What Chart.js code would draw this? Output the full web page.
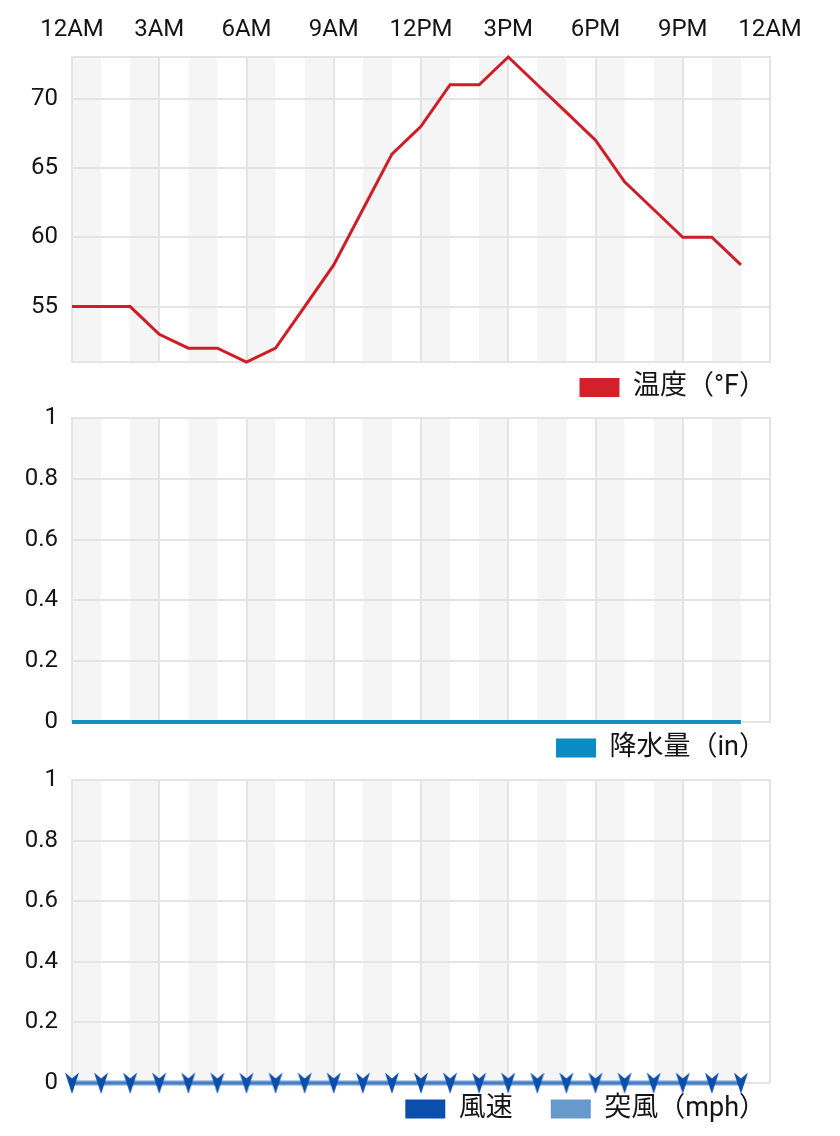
<!DOCTYPE html>
<html>
<head>
<meta charset="utf-8">
<script src="https://cdn.jsdelivr.net/npm/chart.js@4"></script>
<style>
  html, body { margin: 0; padding: 0; background: #fff; overflow: hidden; }
  body { width: 840px; height: 1136px; position: relative; }
  canvas { position: absolute; left: 0; }
  #temp { top: 0; }
  #rain { top: 385px; }
  #wind { top: 750px; }
</style>
</head>
<body>
<canvas id="temp" width="840" height="412"></canvas>
<canvas id="rain" width="840" height="388"></canvas>
<canvas id="wind" width="840" height="380"></canvas>
<script>
// hourly data, starting at 12AM
const hours = [0, 1, 2, 3, 4, 5, 6, 7, 8, 9, 10, 11, 12, 13, 14, 15, 16, 17, 18, 19, 20, 21, 22, 23];
const hourTicks = [0, 3, 6, 9, 12, 15, 18, 21, 24];
const hourLabels = ["12AM", "3AM", "6AM", "9AM", "12PM", "3PM", "6PM", "9PM", "12AM"];

const temperature = [55, 55, 55, 53, 52, 52, 51, 52, 55, 58, 62, 66, 68, 71, 71, 73, 71, 69, 67, 64, 62, 60, 60, 58];
const tempTicks = [55, 60, 65, 70];

const precipitation = [0, 0, 0, 0, 0, 0, 0, 0, 0, 0, 0, 0, 0, 0, 0, 0, 0, 0, 0, 0, 0, 0, 0, 0];
const windSpeed = [0, 0, 0, 0, 0, 0, 0, 0, 0, 0, 0, 0, 0, 0, 0, 0, 0, 0, 0, 0, 0, 0, 0, 0];
const windGust = [0, 0, 0, 0, 0, 0, 0, 0, 0, 0, 0, 0, 0, 0, 0, 0, 0, 0, 0, 0, 0, 0, 0, 0];
const windDirection = [0, 0, 0, 0, 0, 0, 0, 0, 0, 0, 0, 0, 0, 0, 0, 0, 0, 0, 0, 0, 0, 0, 0, 0];
const unitTicks = [0, 0.2, 0.4, 0.6, 0.8, 1];

const GRID = "#e4e4e4";
Chart.defaults.font.family = 'Roboto, "Noto Sans CJK JP", sans-serif';
Chart.defaults.color = "#151515";
Chart.defaults.animation = false;

// grey band on every other hour
const stripes = {
  id: "stripes",
  beforeDraw(chart) {
    const { ctx, chartArea: a, scales: { x } } = chart;
    ctx.save();
    ctx.fillStyle = "#f5f5f5";
    for (let h = 0; h < 24; h += 2) {
      const x0 = x.getPixelForValue(h);
      const x1 = x.getPixelForValue(h + 1);
      ctx.fillRect(x0, a.top, x1 - x0, a.bottom - a.top);
    }
    ctx.restore();
  },
};

// move the legend a bit after layout (bottom edge kept so nothing is clipped)
const legendNudge = {
  id: "legendNudge",
  afterLayout(chart, args, opts) {
    const lg = chart.legend;
    if (!lg) return;
    const dx = opts.dx || 0;
    const dy = opts.dy || 0;
    lg.left += dx;
    lg.right += dx;
    lg.top += dy;
    if (dy > 0) lg.bottom += dy;
  },
};

function arrowImage() {
  const c = document.createElement("canvas");
  c.width = 16;
  c.height = 24;
  const g = c.getContext("2d");
  g.fillStyle = "#0b4fad";
  g.beginPath();
  g.moveTo(1, 1.5);
  g.lineTo(8, 7.5);
  g.lineTo(15, 1.5);
  g.lineTo(8, 23);
  g.closePath();
  g.fill();
  return c;
}

function xScale(height, showLabels) {
  return {
    type: "linear",
    position: "top",
    min: 0,
    max: 24,
    afterBuildTicks: (s) => {
      s.ticks = hourTicks.map((v) => ({ value: v }));
    },
    afterFit: (s) => {
      s.height = height;
    },
    grid: { color: GRID, lineWidth: 2, drawTicks: false },
    border: { color: GRID, width: 2 },
    ticks: {
      display: showLabels,
      padding: 13,
      maxRotation: 0,
      autoSkip: false,
      font: { size: 24 },
      callback: (v) => hourLabels[hourTicks.indexOf(v)],
    },
  };
}

function yScale(min, max, labelTicks) {
  return {
    min: min,
    max: max,
    afterBuildTicks: (s) => {
      const vals = [min, ...labelTicks, max].filter((v, i, arr) => arr.indexOf(v) === i);
      s.ticks = vals.map((v) => ({ value: v }));
    },
    afterFit: (s) => {
      s.width = 72;
    },
    grid: { color: GRID, lineWidth: 2, drawTicks: false },
    border: { color: GRID, width: 2 },
    ticks: {
      padding: 14,
      font: { size: 24 },
      callback: (v) => (labelTicks.includes(v) ? String(v) : ""),
    },
  };
}

function legendOpts(pad, maxHeight) {
  return {
    position: "bottom",
    align: "end",
    maxHeight: maxHeight,
    labels: {
      boxWidth: 40,
      boxHeight: 19,
      padding: pad,
      color: "#151515",
      font: { size: 27 },
      generateLabels: (chart) =>
        Chart.defaults.plugins.legend.labels.generateLabels(chart).map((l) => ({ ...l, lineWidth: 0 })),
    },
  };
}

function points(values) {
  return values.map((v, i) => ({ x: hours[i], y: v }));
}

// temperature
new Chart(document.getElementById("temp"), {
  type: "line",
  data: {
    datasets: [
      {
        label: "温度（°F）",
        data: points(temperature),
        borderColor: "#cf1d27",
        backgroundColor: "#d4202a",
        borderWidth: 3,
        pointRadius: 0,
        tension: 0,
        clip: false,
      },
    ],
  },
  options: {
    responsive: false,
    layout: { padding: { left: 0, right: 70, top: 0, bottom: 3 } },
    scales: { x: xScale(57, true), y: yScale(51, 73, tempTicks) },
    plugins: { legend: legendOpts(10, 47), tooltip: { enabled: false }, legendNudge: { dx: 6, dy: 2 } },
  },
  plugins: [stripes, legendNudge],
});

// precipitation
new Chart(document.getElementById("rain"), {
  type: "line",
  data: {
    datasets: [
      {
        label: "降水量（in）",
        data: points(precipitation),
        borderColor: "#178dc1",
        backgroundColor: "#0b8bc4",
        borderWidth: 4,
        pointRadius: 0,
        clip: false,
      },
    ],
  },
  options: {
    responsive: false,
    layout: { padding: { left: 0, right: 70, top: 0, bottom: 3 } },
    scales: { x: xScale(33, false), y: yScale(0, 1, unitTicks) },
    plugins: { legend: legendOpts(11, 48), tooltip: { enabled: false }, legendNudge: { dx: 7, dy: 1.5 } },
  },
  plugins: [stripes, legendNudge],
});

// wind
new Chart(document.getElementById("wind"), {
  type: "line",
  data: {
    datasets: [
      {
        label: "風速",
        data: points(windSpeed),
        borderColor: "#4a7cc1",
        backgroundColor: "#0b4fad",
        borderWidth: 2,
        pointStyle: arrowImage(),
        pointRadius: 8,
        pointRotation: windDirection,
        clip: false,
      },
      {
        label: "突風（mph）",
        data: points(windGust),
        borderColor: "#6d9cd2",
        backgroundColor: "#6699cc",
        borderWidth: 5,
        pointRadius: 0,
        clip: false,
      },
    ],
  },
  options: {
    responsive: false,
    layout: { padding: { left: 0, right: 70, top: 0, bottom: 0 } },
    scales: { x: xScale(30, false), y: yScale(0, 1, unitTicks) },
    plugins: { legend: legendOpts(38, 47), tooltip: { enabled: false }, legendNudge: { dx: 34, dy: -25.5 } },
  },
  plugins: [stripes, legendNudge],
});
</script>
</body>
</html>
